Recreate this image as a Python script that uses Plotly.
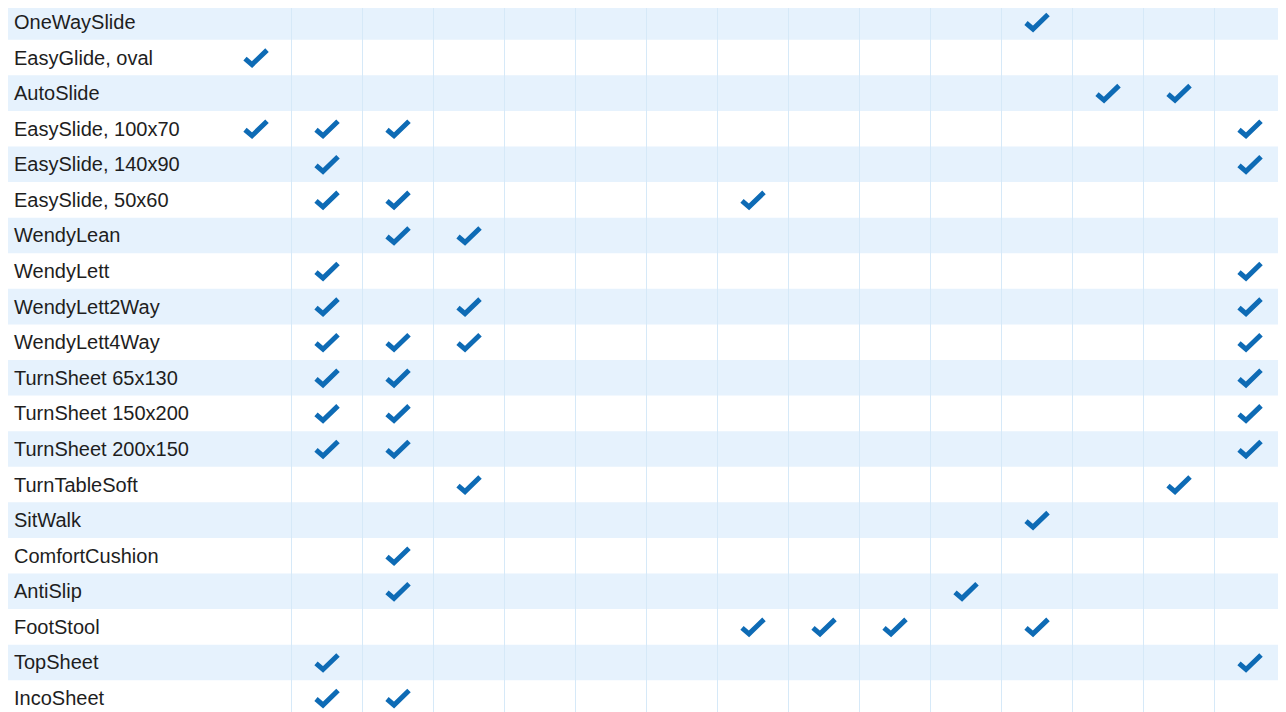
import plotly.graph_objects as go

rows = ["OneWaySlide", "EasyGlide, oval", "AutoSlide", "EasySlide, 100x70", "EasySlide, 140x90",
        "EasySlide, 50x60", "WendyLean", "WendyLett", "WendyLett2Way", "WendyLett4Way",
        "TurnSheet 65x130", "TurnSheet 150x200", "TurnSheet 200x150", "TurnTableSoft",
        "SitWalk", "ComfortCushion", "AntiSlip", "FootStool", "TopSheet", "IncoSheet"]
n_cols = 15
checks = {
    "OneWaySlide": [11],
    "EasyGlide, oval": [0],
    "AutoSlide": [12, 13],
    "EasySlide, 100x70": [0, 1, 2, 14],
    "EasySlide, 140x90": [1, 14],
    "EasySlide, 50x60": [1, 2, 7],
    "WendyLean": [2, 3],
    "WendyLett": [1, 14],
    "WendyLett2Way": [1, 3, 14],
    "WendyLett4Way": [1, 2, 3, 14],
    "TurnSheet 65x130": [1, 2, 14],
    "TurnSheet 150x200": [1, 2, 14],
    "TurnSheet 200x150": [1, 2, 14],
    "TurnTableSoft": [3, 13],
    "SitWalk": [11],
    "ComfortCushion": [2],
    "AntiSlip": [2, 10],
    "FootStool": [7, 8, 9, 11],
    "TopSheet": [1, 14],
    "IncoSheet": [1, 2],
}

BAND = "#e6f2fd"
GRID = "#d6e9f8"
CHECK = "#0e6bb5"

# page body has an 8px margin, so the figure is drawn 8px in from the top-left
W, H = 1278, 704
col_px0, col_dx = 248, 71.0
row_px0, row_dy = 14, 35.58
x_range = [(0 - col_px0) / col_dx, (W - col_px0) / col_dx]
y_range = [(H - row_px0) / row_dy, (0 - row_px0) / row_dy]
label_x = (6 - col_px0) / col_dx
label_dy = 2 / row_dy

# check-mark shape (offsets from cell centre, in column / row units)
CHK_DX = [-11 / col_dx, -4 / col_dx, 11 / col_dx]
CHK_DY = [1 / row_dy, 7 / row_dy, -7.5 / row_dy]

fig = go.Figure()

shapes = []
for r in range(0, len(rows), 2):
    shapes.append(dict(type="rect", xref="x", yref="y", x0=x_range[0], x1=x_range[1],
                       y0=r - 0.5, y1=r + 0.5, fillcolor=BAND, line_width=0, layer="below"))

fig.add_trace(go.Scatter(
    x=[label_x] * len(rows), y=[r + label_dy for r in range(len(rows))], mode="text", text=rows,
    textposition="middle right",
    textfont=dict(family="Liberation Sans, Arial, sans-serif", size=20, color="#1e1e1e"),
    hoverinfo="skip", showlegend=False))

cx, cy = [], []
for r, name in enumerate(rows):
    for c in checks[name]:
        cx += [c + d for d in CHK_DX] + [None]
        cy += [r + d for d in CHK_DY] + [None]
fig.add_trace(go.Scatter(
    x=cx, y=cy, mode="lines", line=dict(color=CHECK, width=5),
    hoverinfo="skip", showlegend=False))

fig.update_layout(
    width=W, height=H, margin=dict(l=0, r=0, t=0, b=0),
    paper_bgcolor="white", plot_bgcolor="white", shapes=shapes,
    xaxis=dict(range=x_range, tickvals=[i + 0.5 for i in range(n_cols - 1)], showticklabels=False,
               showgrid=True, gridcolor=GRID, gridwidth=1, zeroline=False, fixedrange=True),
    yaxis=dict(range=y_range, showgrid=False, showticklabels=False, zeroline=False, fixedrange=True),
)

fig.write_html("out.html")
